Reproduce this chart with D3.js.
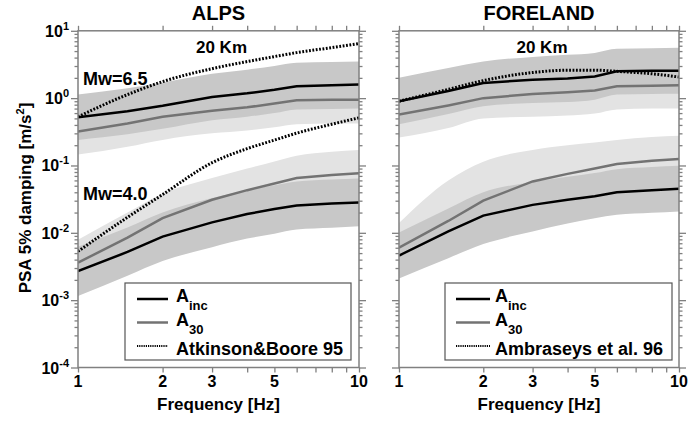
<!DOCTYPE html>
<html>
<head>
<meta charset="utf-8">
<script src="https://cdn.jsdelivr.net/npm/d3@7"></script>
<style>
  body { margin: 0; background: #fff; }
  svg text { font-family: "Liberation Sans", Arial, sans-serif; font-weight: bold; fill: #000; }
</style>
</head>
<body>
<div id="chart"></div>
<script>
// Frequencies sampled [Hz]
const freqs = [1, 1.5, 2, 3, 4, 5, 6, 8, 10];

// ALPS, Mw=6.5
const alpsInc65 = [0.52, 0.64, 0.77, 1.04, 1.18, 1.33, 1.5, 1.56, 1.59];
const alpsInc65Hi = [1.13, 1.4, 1.7, 2.3, 2.65, 3.0, 3.35, 3.45, 3.5];
const alpsInc65Lo = [0.24, 0.29, 0.35, 0.47, 0.53, 0.6, 0.68, 0.69, 0.7];
const alps3065 = [0.32, 0.42, 0.53, 0.65, 0.73, 0.83, 0.93, 0.95, 0.95];
const alps3065Hi = [0.7, 0.92, 1.17, 1.43, 1.6, 1.83, 2.05, 2.1, 2.1];
const alps3065Lo = [0.145, 0.19, 0.24, 0.3, 0.33, 0.37, 0.41, 0.42, 0.42];
const ab95_65 = [0.53, 1.13, 1.76, 2.74, 3.49, 4.14, 4.74, 5.63, 6.45];
// ALPS, Mw=4.0
const alpsInc40 = [0.0027, 0.0052, 0.0088, 0.0143, 0.019, 0.0225, 0.0255, 0.0272, 0.0283];
const alpsInc40Hi = [0.0062, 0.012, 0.02, 0.033, 0.043, 0.051, 0.058, 0.062, 0.064];
const alpsInc40Lo = [0.00115, 0.0023, 0.0038, 0.0061, 0.0082, 0.0097, 0.0112, 0.0119, 0.0125];
const alps3040 = [0.0036, 0.0085, 0.0165, 0.031, 0.043, 0.054, 0.065, 0.072, 0.077];
const alps3040Hi = [0.0079, 0.02, 0.038, 0.065, 0.09, 0.115, 0.14, 0.16, 0.17];
const alps3040Lo = [0.0016, 0.0038, 0.0075, 0.014, 0.0195, 0.0245, 0.029, 0.032, 0.035];
const ab95_40 = [0.0053, 0.017, 0.037, 0.11, 0.178, 0.238, 0.302, 0.41, 0.51];

// FORELAND, Mw=6.5
const foreInc65 = [0.9, 1.28, 1.68, 1.88, 1.95, 2.1, 2.5, 2.55, 2.56];
const foreInc65Hi = [2.0, 2.8, 3.5, 4.1, 4.4, 4.7, 5.4, 5.5, 5.6];
const foreInc65Lo = [0.41, 0.58, 0.76, 0.85, 0.88, 0.95, 1.13, 1.15, 1.16];
const fore3065 = [0.57, 0.78, 1.0, 1.15, 1.22, 1.3, 1.5, 1.53, 1.55];
const fore3065Hi = [1.25, 1.7, 2.2, 2.5, 2.7, 2.85, 3.3, 3.35, 3.4];
const fore3065Lo = [0.26, 0.36, 0.5, 0.53, 0.55, 0.59, 0.68, 0.7, 0.7];
const amb96_65 = [0.9, 1.35, 1.82, 2.4, 2.6, 2.6, 2.5, 2.3, 2.06];
// FORELAND, Mw=4.0
const foreInc40 = [0.0046, 0.0105, 0.018, 0.026, 0.031, 0.035, 0.04, 0.043, 0.045];
const foreInc40Hi = [0.0101, 0.023, 0.04, 0.057, 0.068, 0.077, 0.088, 0.095, 0.099];
const foreInc40Lo = [0.0021, 0.0042, 0.0068, 0.0105, 0.0138, 0.0165, 0.0185, 0.0198, 0.0208];
const fore3040 = [0.006, 0.015, 0.03, 0.058, 0.075, 0.09, 0.105, 0.118, 0.125];
const fore3040Hi = [0.014, 0.06, 0.114, 0.17, 0.2, 0.22, 0.24, 0.265, 0.277];
const fore3040Lo = [0.0027, 0.0068, 0.0136, 0.026, 0.034, 0.041, 0.048, 0.054, 0.057];

// Tick values
const xMajor = [1, 2, 3, 5, 10];
const xTicks = [1, 2, 3, 4, 5, 6, 7, 8, 9, 10];
const yExponents = [1, 0, -1, -2, -3, -4];

const width = 689, height = 421;
const svg = d3.select('#chart').append('svg')
    .attr('width', width)
    .attr('height', height);

const y = d3.scaleLog().domain([1e-4, 10]).range([367.5, 30.8]);

const yMinor = [];
for (let e = -4; e < 1; e++) {
    for (let m = 2; m <= 9; m++) yMinor.push(m * Math.pow(10, e));
}
const yMajorVals = yExponents.map(e => Math.pow(10, e));

const axisColor = '#808080';
const lightBand = '#e3e3e3';
const darkBand = '#c8c8c8';

const panels = [
    {
        title: 'ALPS', x0: 78, x1: 359, showY: true, refName: 'Atkinson&Boore 95',
        legend: { x0: 125, x1: 351, lx0: 137, lx1: 168, tx: 176 },
        groups: [
            { inc: alpsInc65, incHi: alpsInc65Hi, incLo: alpsInc65Lo, a30: alps3065, a30Hi: alps3065Hi, a30Lo: alps3065Lo, ref: ab95_65 },
            { inc: alpsInc40, incHi: alpsInc40Hi, incLo: alpsInc40Lo, a30: alps3040, a30Hi: alps3040Hi, a30Lo: alps3040Lo, ref: ab95_40 }
        ]
    },
    {
        title: 'FORELAND', x0: 399, x1: 679, showY: false, refName: 'Ambraseys et al. 96',
        legend: { x0: 445, x1: 672, lx0: 456, lx1: 490, tx: 495 },
        groups: [
            { inc: foreInc65, incHi: foreInc65Hi, incLo: foreInc65Lo, a30: fore3065, a30Hi: fore3065Hi, a30Lo: fore3065Lo, ref: amb96_65 },
            { inc: foreInc40, incHi: foreInc40Hi, incLo: foreInc40Lo, a30: fore3040, a30Hi: fore3040Hi, a30Lo: fore3040Lo, ref: null }
        ]
    }
];

panels.forEach((p, pi) => {
    const x = d3.scaleLog().domain([1, 10]).range([p.x0, p.x1]);
    const g = svg.append('g');

    // clip to plot area
    const clipId = 'clip' + pi;
    svg.append('clipPath').attr('id', clipId)
        .append('rect')
        .attr('x', p.x0).attr('y', y(10))
        .attr('width', p.x1 - p.x0).attr('height', y(1e-4) - y(10));
    const plot = g.append('g').attr('clip-path', `url(#${clipId})`);

    const area = (hi, lo) => d3.area()
        .x((d, i) => x(freqs[i]))
        .y0((d, i) => y(lo[i]))
        .y1((d, i) => y(hi[i]))
        .curve(d3.curveMonotoneX)(freqs);
    const line = (vals, curve) => d3.line()
        .x((d, i) => x(freqs[i]))
        .y(d => y(d))
        .curve(curve || d3.curveLinear)(vals);

    p.groups.forEach(gr => {
        plot.append('path').attr('d', area(gr.a30Hi, gr.a30Lo)).attr('fill', lightBand);
        plot.append('path').attr('d', area(gr.incHi, gr.incLo)).attr('fill', darkBand);
    });
    p.groups.forEach(gr => {
        plot.append('path').attr('d', line(gr.a30))
            .attr('fill', 'none').attr('stroke', '#737373').attr('stroke-width', 2.5);
        plot.append('path').attr('d', line(gr.inc))
            .attr('fill', 'none').attr('stroke', '#000').attr('stroke-width', 2.5);
        if (gr.ref) {
            plot.append('path').attr('d', line(gr.ref, d3.curveMonotoneX))
                .attr('fill', 'none').attr('stroke', '#000').attr('stroke-width', 3)
                .attr('stroke-dasharray', '1.8,1.6');
        }
    });

    // axes
    const styleAxis = sel => {
        sel.select('.domain').remove();
        sel.selectAll('line').attr('stroke', axisColor).attr('stroke-width', 1.3);
        sel.selectAll('text').remove();
    };
    g.append('g').attr('transform', `translate(${p.x0},0)`)
        .call(d3.axisLeft(y).tickValues(yMinor).tickSize(3.5).tickFormat('')).call(styleAxis);
    g.append('g').attr('transform', `translate(${p.x0},0)`)
        .call(d3.axisLeft(y).tickValues(yMajorVals).tickSize(7).tickFormat('')).call(styleAxis);
    g.append('g').attr('transform', `translate(${p.x1},0)`)
        .call(d3.axisRight(y).tickValues(yMinor).tickSize(3.5).tickFormat('')).call(styleAxis);
    g.append('g').attr('transform', `translate(${p.x1},0)`)
        .call(d3.axisRight(y).tickValues(yMajorVals).tickSize(7).tickFormat('')).call(styleAxis);
    g.append('g').attr('transform', `translate(0,${y(10)})`)
        .call(d3.axisTop(x).tickValues(xTicks).tickSize(5).tickFormat('')).call(styleAxis);
    g.append('g').attr('transform', `translate(0,${y(1e-4)})`)
        .call(d3.axisBottom(x).tickValues(xTicks).tickSize(5).tickFormat('')).call(styleAxis);

    // frame
    g.append('rect')
        .attr('x', p.x0).attr('y', y(10))
        .attr('width', p.x1 - p.x0).attr('height', y(1e-4) - y(10))
        .attr('fill', 'none').attr('stroke', axisColor).attr('stroke-width', 1.5);

    // x labels
    g.selectAll('.xl').data(xMajor).enter().append('text')
        .attr('x', d => x(d)).attr('y', 387)
        .attr('text-anchor', 'middle').style('font-size', '16px')
        .text(d => d);
    g.append('text').attr('x', (p.x0 + p.x1) / 2).attr('y', 410)
        .attr('text-anchor', 'middle').style('font-size', '17px')
        .text('Frequency [Hz]');

    // titles
    g.append('text').attr('x', (p.x0 + p.x1) / 2).attr('y', 20)
        .attr('text-anchor', 'middle').style('font-size', '20px').text(p.title);
    g.append('text').attr('x', (p.x0 + p.x1) / 2 + 3).attr('y', 53)
        .attr('text-anchor', 'middle').style('font-size', '17px').text('20 Km');

    // y labels
    if (p.showY) {
        yExponents.forEach(e => {
            const t = g.append('text').attr('x', 69).attr('y', y(Math.pow(10, e)) + 6)
                .attr('text-anchor', 'end').style('font-size', '16px');
            t.append('tspan').text('10');
            t.append('tspan').attr('dy', -7).style('font-size', '11px').text(e);
        });
        const yl = g.append('text')
            .attr('transform', `translate(31,198) rotate(-90)`)
            .attr('text-anchor', 'middle').style('font-size', '17px');
        yl.append('tspan').text('PSA 5% damping [m/s');
        yl.append('tspan').attr('dy', -7).style('font-size', '11px').text('2');
        yl.append('tspan').attr('dy', 7).text(']');

        g.append('text').attr('x', 83).attr('y', 85).style('font-size', '18px').text('Mw=6.5');
        g.append('text').attr('x', 83).attr('y', 200).style('font-size', '18px').text('Mw=4.0');
    }

    // legend
    const L = p.legend;
    g.append('rect').attr('x', L.x0).attr('y', 283)
        .attr('width', L.x1 - L.x0).attr('height', 77)
        .attr('fill', '#fff').attr('stroke', '#555').attr('stroke-width', 1.2);
    const rows = [
        { y: 299, color: '#000', w: 2.5, dash: null, main: 'A', sub: 'inc' },
        { y: 322.5, color: '#737373', w: 2.5, dash: null, main: 'A', sub: '30' },
        { y: 346, color: '#000', w: 2, dash: '1.2,1', main: p.refName, sub: null }
    ];
    rows.forEach(r => {
        const ln = g.append('line').attr('x1', L.lx0).attr('x2', L.lx1)
            .attr('y1', r.y).attr('y2', r.y)
            .attr('stroke', r.color).attr('stroke-width', r.w);
        if (r.dash) ln.attr('stroke-dasharray', r.dash);
        const t = g.append('text').attr('x', L.tx).attr('y', r.sub ? r.y + 3 : r.y + 9)
            .style('font-size', '18px');
        t.append('tspan').text(r.main);
        if (r.sub) t.append('tspan').attr('dy', 8).style('font-size', '13px').text(r.sub);
    });
});
</script>
</body>
</html>
